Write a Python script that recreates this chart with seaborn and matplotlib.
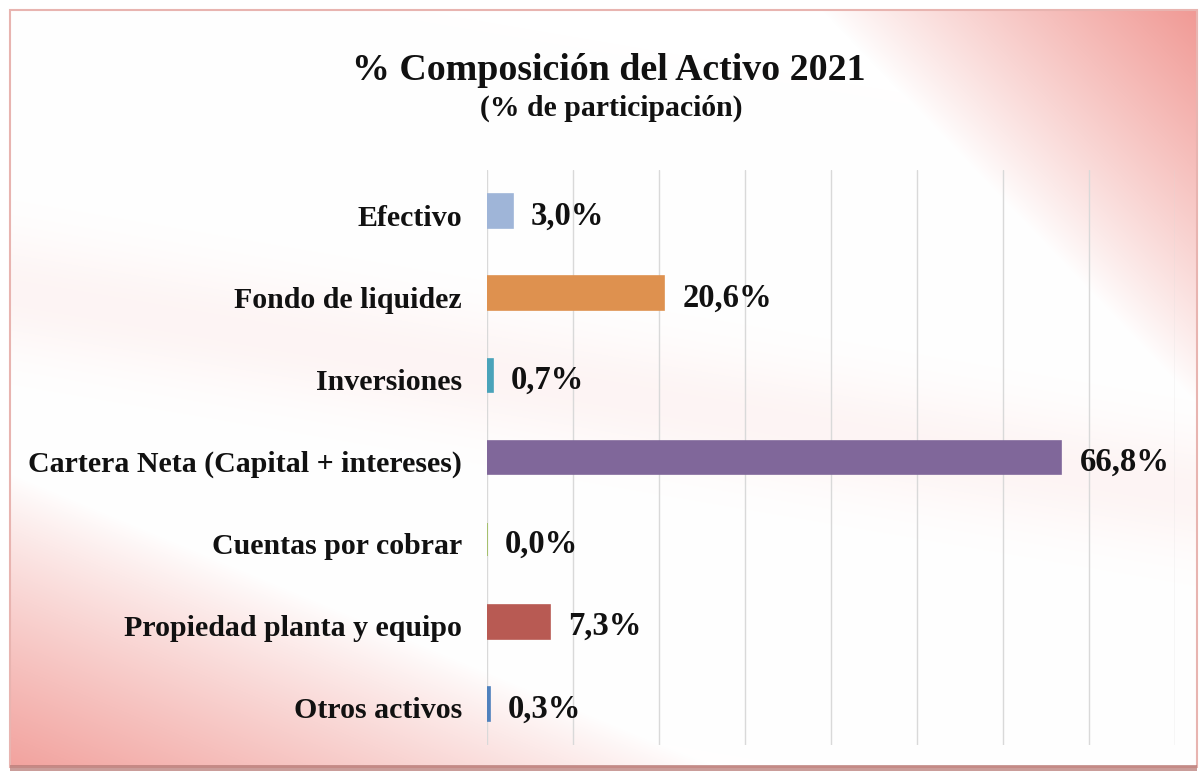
import numpy as np
import pandas as pd
import matplotlib
matplotlib.use("Agg")
import matplotlib.pyplot as plt
import matplotlib.transforms as mtransforms
import seaborn as sns
from matplotlib.patches import Rectangle

categories = ["Efectivo", "Fondo de liquidez", "Inversiones",
              "Cartera Neta (Capital + intereses)", "Cuentas por cobrar",
              "Propiedad planta y equipo", "Otros activos"]
values = [3.0, 20.6, 0.7, 66.8, 0.0, 7.3, 0.3]
colors = ["#9FB5D8", "#DE914F", "#4AA3BA", "#80679A", "#9BBB59", "#B85A53", "#4F81BD"]
title = "% Composición del Activo 2021"
subtitle = "(% de participación)"

sns.set_theme(style="white")
plt.rcParams['font.family'] = ['Liberation Serif', 'DejaVu Serif']
plt.rcParams['font.weight'] = 'bold'

W, H = 1202, 776
fig = plt.figure(figsize=(W / 100, H / 100), dpi=100)

# background gradient
bg = fig.add_axes([0, 0, 1, 1], zorder=-10)
X, Y = np.meshgrid(np.arange(W), np.arange(H))
s_tr = ((W - X) + 0.95 * Y) / 390.0
i_tr = np.clip(1 - s_tr, 0, 1) ** 0.9
s_bl = (X + 2.4 * (H - Y)) / 740.0
i_bl = 0.92 * np.clip(1 - s_bl, 0, 1) ** 0.9
line = 290 + 0.17 * X
i_band = 0.10 * np.exp(-((Y - line) / 60.0) ** 2)
inten = np.clip(np.maximum(np.maximum(i_tr, i_bl), i_band), 0, 1)
red = np.array([240, 150, 145]) / 255.0
img = 1 - inten[..., None] * (1 - red[None, None, :])
inside = (X >= 11) & (X <= 1196) & (Y >= 11) & (Y <= 766)
img[~inside] = 1.0
bg.imshow(img, extent=[0, W, H, 0], aspect='auto', interpolation='bilinear')
bg.add_patch(Rectangle((10, 10), 1187, 757, fill=False, edgecolor="#E8B4B0", lw=1.5))
bg.add_patch(Rectangle((10, 765), 1187, 6, facecolor="#B97C78", edgecolor="none", alpha=0.75))
bg.set_xlim(0, W)
bg.set_ylim(H, 0)
bg.axis("off")

df = pd.DataFrame({"cat": categories, "val": values})
ax = fig.add_axes([487 / W, 1 - 745 / H, (1175 - 487) / W, (745 - 170) / H])
ax.set_facecolor("none")
sns.barplot(data=df, y="cat", x="val", hue="cat", palette=colors, orient="h",
            width=0.41, legend=False, ax=ax, saturation=1)
for p, c in zip(ax.patches, colors):
    p.set_edgecolor(c)
    p.set_linewidth(1.2)
ax.set_xlim(0, 80)
ax.set_xticks(np.arange(0, 81, 10))
ax.set_xticklabels([])
ax.grid(axis="x", color="#D9D9D9", lw=1)
ax.set_axisbelow(True)
for sp in ax.spines.values():
    sp.set_visible(False)
ax.tick_params(axis="both", length=0)
ax.tick_params(axis="y", pad=18)
ax.set_xlabel("")
ax.set_ylabel("")
shift = mtransforms.ScaledTranslation(0, -4 / 100, fig.dpi_scale_trans)
for lab in ax.get_yticklabels():
    lab.set_fontsize(21.5)
    lab.set_fontweight("bold")
    lab.set_color("#111111")
    lab.set_transform(lab.get_transform() + shift)

for i, v in enumerate(values):
    ax.annotate(f"{v:.1f}".replace(".", ",") + "%", xy=(v, i), xytext=(13, -3.5),
                textcoords="offset points", va="center", ha="left",
                fontsize=23.5, fontweight="bold", color="#111111")

fig.text(609 / W, 1 - 71 / H, title, ha="center", va="center", fontsize=27.3,
         fontweight="bold", color="#111111")
fig.text(611 / W, 1 - 108 / H, subtitle, ha="center", va="center", fontsize=21.4,
         fontweight="bold", color="#111111")

fig.savefig("out.png", dpi=100)
